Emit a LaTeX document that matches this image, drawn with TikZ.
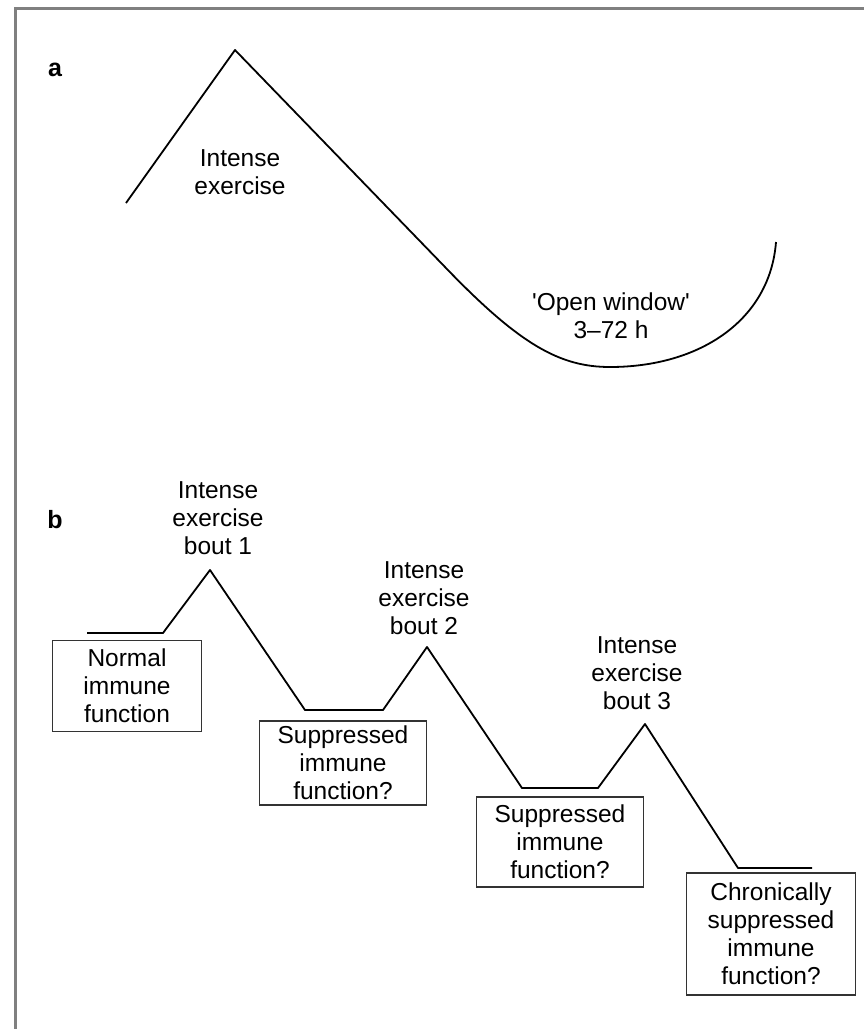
\documentclass[tikz,border=0pt]{standalone}
\usepackage{fontspec}
\setmainfont{Liberation Sans}
\tikzset{
  txt/.style={align=center,inner sep=0pt,font=\fontsize{24.5}{28}\selectfont},
  box/.style={txt,draw=black!80,line width=1.3pt},
  panel/.style={inner sep=0pt,font=\fontsize{25}{28}\selectfont\bfseries},
  curve/.style={line width=1.8pt,line join=round}
}
\begin{document}
\begin{tikzpicture}[x=1pt,y=-1pt]
\useasboundingbox (0,0) rectangle (864,1029);
\fill[white] (0,0) rectangle (864,1029);
\draw[black!50,line width=3pt] (15,1029)--(15,8)--(864,8);
% panel a
\node[panel] (pa) at (55,70) {a};
\draw[curve] (126,203)--(235,50)--(445,267) .. controls (520,345) and (560,367) .. (610,367)
  .. controls (700,367) and (770,320) .. (776,242);
\node[txt] (ex) at (240,172) {Intense\\exercise};
\node[txt] (win) at (611,316) {\textquotesingle Open window\textquotesingle\\3--72 h};
% panel b
\node[panel] (pb) at (55,520) {b};
\draw[curve] (87,633)--(163,633)--(210,570)--(305,710)--(383,710)--(427,647)
  --(522,788)--(598,788)--(645,724)--(738,868)--(812,868);
\node[txt] (bout1) at (218,518) {Intense\\exercise\\bout 1};
\node[txt] (bout2) at (424,598) {Intense\\exercise\\bout 2};
\node[txt] (bout3) at (637,673) {Intense\\exercise\\bout 3};
\node[box,minimum width=149pt,minimum height=91pt] (normal) at (127,686) {Normal\\immune\\function};
\node[box,minimum width=167pt,minimum height=84pt] (supp1) at (343,763) {Suppressed\\immune\\function?};
\node[box,minimum width=167pt,minimum height=90pt] (supp2) at (560,842) {Suppressed\\immune\\function?};
\node[box,minimum width=169pt,minimum height=122pt] (chron) at (771,934) {Chronically\\suppressed\\immune\\function?};
\end{tikzpicture}
\end{document}
